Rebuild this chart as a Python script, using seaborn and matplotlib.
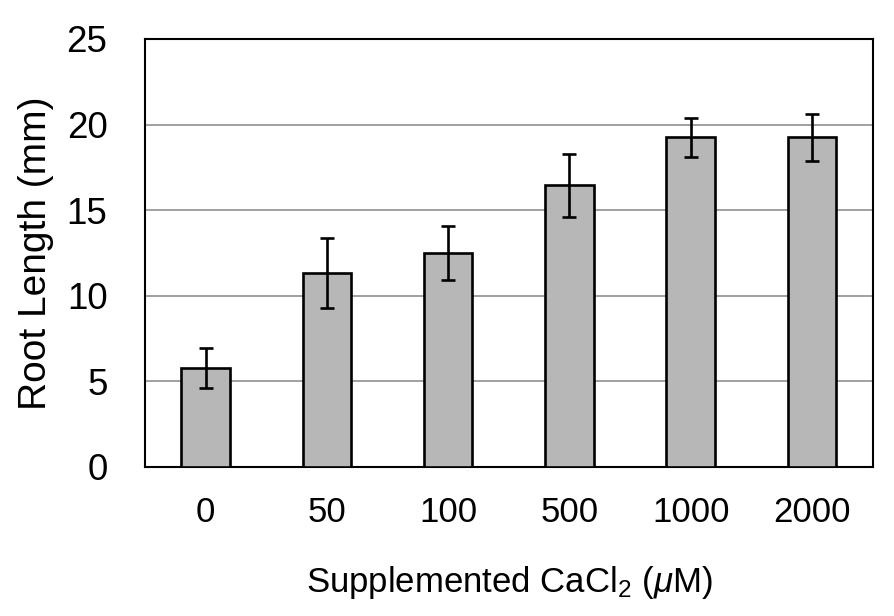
import matplotlib
matplotlib.use("Agg")
import matplotlib.pyplot as plt
import seaborn as sns
import pandas as pd

# Data
categories = ["0", "50", "100", "500", "1000", "2000"]
root_length = [5.8, 11.35, 12.5, 16.45, 19.25, 19.25]
root_err = [1.17, 2.05, 1.55, 1.83, 1.13, 1.37]
y_ticks = [0, 5, 10, 15, 20, 25]

sns.set_theme(style="white")
plt.rcParams["font.family"] = ["Liberation Sans", "DejaVu Sans"]
plt.rcParams["mathtext.fontset"] = "custom"
plt.rcParams["mathtext.rm"] = "Liberation Sans"
plt.rcParams["mathtext.it"] = "Liberation Sans:italic"

df = pd.DataFrame({"conc": categories, "length": root_length, "err": root_err})

fig = plt.figure(figsize=(8.95, 6.16), dpi=100)
ax = fig.add_axes([0.162, 0.2419, 0.813, 0.6948])

sns.barplot(data=df, x="conc", y="length", color="#b7b7b7", width=0.4,
            edgecolor="black", linewidth=1.9, saturation=1, errorbar=None,
            ax=ax, zorder=3)
ax.errorbar(x=range(len(df)), y=df["length"], yerr=df["err"], fmt="none",
            ecolor="black", elinewidth=1.9, capsize=5, capthick=1.9, zorder=4)

ax.set_ylim(0, 25)
ax.set_yticks(y_ticks)
ax.set_xlim(-0.5, len(categories) - 0.5)
ax.yaxis.grid(True, color="#999999", linewidth=1.3, zorder=0)
ax.set_axisbelow(True)
for s in ax.spines.values():
    s.set_visible(True)
    s.set_color("black")
    s.set_linewidth(1.5)

ax.tick_params(axis="y", length=0, pad=27, labelsize=26.5, labelcolor="black")
ax.tick_params(axis="x", length=0, pad=21, labelsize=25, labelcolor="black")
ax.set_xlabel(r"Supplemented CaCl$_2$ ($\mu$M)", fontsize=25, labelpad=25, color="black")
ax.set_ylabel("Root Length (mm)", fontsize=28, labelpad=9, color="black")

fig.savefig("out.png", dpi=100)
